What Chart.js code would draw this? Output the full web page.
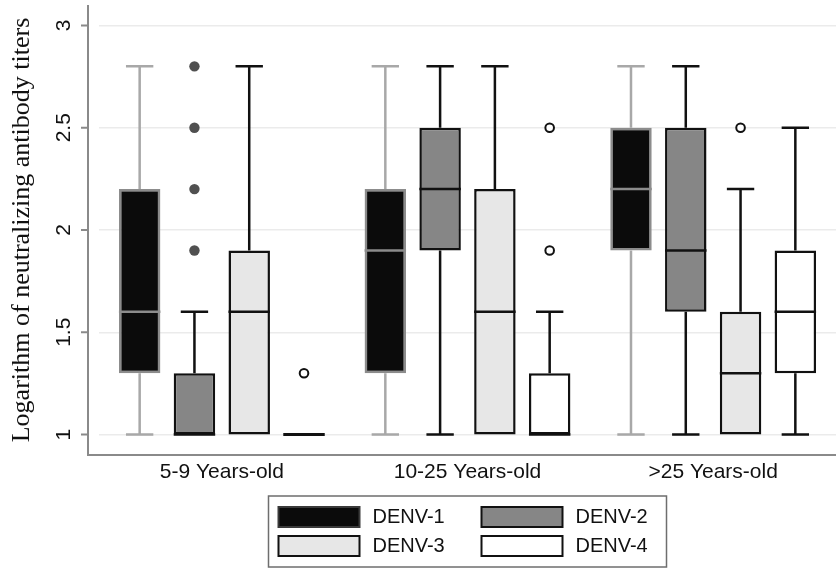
<!DOCTYPE html>
<html><head><meta charset="utf-8">
<script src="https://cdn.jsdelivr.net/npm/chart.js@4.4.1/dist/chart.umd.min.js"></script>
<style>html,body{margin:0;padding:0;background:#fff;}#wrap{width:836px;height:569px;position:relative;}</style>
</head><body><div id="wrap"><canvas id="c"></canvas></div>
<script>
// ---- data ----
const categories = ['5-9 Years-old', '10-25 Years-old', '>25 Years-old'];
const seriesNames = ['DENV-1', 'DENV-2', 'DENV-3', 'DENV-4'];
// per age group: [lower whisker, Q1, median, Q3, upper whisker]
const denv1Stats = [[1, 1.3, 1.6, 2.2, 2.8], [1, 1.3, 1.9, 2.2, 2.8], [1, 1.9, 2.2, 2.5, 2.8]];
const denv2Stats = [[1, 1, 1, 1.3, 1.6], [1, 1.9, 2.2, 2.5, 2.8], [1, 1.6, 1.9, 2.5, 2.8]];
const denv3Stats = [[1, 1, 1.6, 1.9, 2.8], [1, 1, 1.6, 2.2, 2.8], [1, 1, 1.3, 1.6, 2.2]];
const denv4Stats = [[1, 1, 1, 1, 1], [1, 1, 1, 1.3, 1.6], [1, 1.3, 1.6, 1.9, 2.5]];
const denv1Outliers = [[], [], []];
const denv2Outliers = [[1.9, 2.2, 2.5, 2.8], [], []];
const denv3Outliers = [[], [], [2.5]];
const denv4Outliers = [[1.3], [1.9, 2.5], []];
const yTicks = [1, 1.5, 2, 2.5, 3];
const yTickLabels = ['1', '1.5', '2', '2.5', '3'];
const yTitle = 'Logarithm of neutralizing antibody titers';

// ---- styles ----
const styles = [
  {fill: '#0b0b0b', edge: '#8c8c8c', whisker: '#a8a8a8', median: '#8c8c8c', outFill: '#0b0b0b', outEdge: '#8c8c8c', legEdge: '#3a3a3a'},
  {fill: '#868686', edge: '#111111', whisker: '#111111', median: '#111111', outFill: '#505050', outEdge: null, legEdge: '#111111'},
  {fill: '#e7e7e7', edge: '#111111', whisker: '#111111', median: '#111111', outFill: '#ffffff', outEdge: '#111111', legEdge: '#111111'},
  {fill: '#ffffff', edge: '#111111', whisker: '#111111', median: '#111111', outFill: '#ffffff', outEdge: '#111111', legEdge: '#111111'}
];
const allStats = [denv1Stats, denv2Stats, denv3Stats, denv4Stats];
const allOutliers = [denv1Outliers, denv2Outliers, denv3Outliers, denv4Outliers];
const SANS = "'Liberation Sans', Arial, sans-serif";
const SERIF = "'Liberation Serif', 'Times New Roman', serif";

const datasets = seriesNames.map((name, i) => ({
  label: name,
  data: allStats[i].map(s => [s[1], s[3]]),
  stats: allStats[i],
  outliers: allOutliers[i],
  backgroundColor: styles[i].fill,
  borderColor: styles[i].edge,
  borderWidth: 2.5,
  borderSkipped: false,
  categoryPercentage: 0.892,
  barPercentage: 0.757
}));

const boxExtras = {
  id: 'boxExtras',
  afterDatasetsDraw(chart) {
    const ctx = chart.ctx, y = chart.scales.y;
    const px = v => y.getPixelForValue(v);
    chart.data.datasets.forEach((ds, di) => {
      const st = styles[di];
      const meta = chart.getDatasetMeta(di);
      meta.data.forEach((bar, i) => {
        const s = ds.stats[i];
        const {x, width} = bar.getProps(['x', 'width'], true);
        const cap = width * 0.33;
        ctx.save();
        ctx.lineCap = 'butt';
        ctx.lineWidth = 2.5;
        ctx.strokeStyle = st.whisker;
        ctx.beginPath();
        if (s[4] > s[3]) {
          ctx.moveTo(x, px(s[3])); ctx.lineTo(x, px(s[4]));
          ctx.moveTo(x - cap, px(s[4])); ctx.lineTo(x + cap, px(s[4]));
        }
        if (s[0] < s[1]) {
          ctx.moveTo(x, px(s[1])); ctx.lineTo(x, px(s[0]));
          ctx.moveTo(x - cap, px(s[0])); ctx.lineTo(x + cap, px(s[0]));
        }
        ctx.stroke();
        ctx.strokeStyle = st.median;
        ctx.lineWidth = s[1] === s[3] ? 3 : 2.5;
        ctx.beginPath();
        ctx.moveTo(x - width / 2, px(s[2])); ctx.lineTo(x + width / 2, px(s[2]));
        ctx.stroke();
        ds.outliers[i].forEach(v => {
          ctx.beginPath();
          ctx.arc(x, px(v), st.outEdge ? 4.3 : 5.2, 0, Math.PI * 2);
          ctx.fillStyle = st.outFill; ctx.fill();
          if (st.outEdge) { ctx.lineWidth = 2; ctx.strokeStyle = st.outEdge; ctx.stroke(); }
        });
        ctx.restore();
      });
    });
  }
};

const axesAndLegend = {
  id: 'axesAndLegend',
  afterDraw(chart) {
    const ctx = chart.ctx, ca = chart.chartArea, y = chart.scales.y;
    const axX = ca.left - 11;
    ctx.save();
    // axis lines
    ctx.strokeStyle = '#8a8a8a';
    ctx.lineWidth = 2;
    ctx.beginPath();
    ctx.moveTo(axX, ca.top); ctx.lineTo(axX, ca.bottom);
    ctx.lineTo(ca.right, ca.bottom);
    yTicks.forEach(v => { const p = y.getPixelForValue(v); ctx.moveTo(axX - 7, p); ctx.lineTo(axX, p); });
    ctx.stroke();
    // y tick labels (rotated)
    ctx.fillStyle = '#111';
    ctx.font = '21px ' + SANS;
    ctx.textAlign = 'center';
    ctx.textBaseline = 'middle';
    yTicks.forEach((v, i) => {
      const p = y.getPixelForValue(v);
      ctx.save();
      ctx.translate(ca.left - 35, p);
      ctx.rotate(-Math.PI / 2);
      ctx.fillText(yTickLabels[i], 0, 0);
      ctx.restore();
    });
    // legend
    const cx = (ca.left + ca.right) / 2;
    const W = 398, H = 71;
    const L = cx - W / 2, T = ca.bottom + 41;
    ctx.strokeStyle = '#6e6e6e';
    ctx.lineWidth = 1.5;
    ctx.strokeRect(L, T, W, H);
    ctx.font = '20px ' + SANS;
    ctx.textAlign = 'left';
    seriesNames.forEach((name, i) => {
      const col = i % 2, row = Math.floor(i / 2);
      const sx = L + 10 + col * 203, sy = T + 11 + row * 29;
      ctx.fillStyle = styles[i].fill;
      ctx.fillRect(sx, sy, 81, 20);
      ctx.strokeStyle = styles[i].legEdge;
      ctx.lineWidth = 2;
      ctx.strokeRect(sx, sy, 81, 20);
      ctx.fillStyle = '#111';
      ctx.fillText(name, sx + 94, sy + 10.5);
    });
    ctx.restore();
  }
};

new Chart(document.getElementById('c'), {
  type: 'bar',
  data: {labels: categories, datasets},
  options: {
    responsive: true,
    maintainAspectRatio: false,
    animation: false,
    layout: {padding: {top: 5, right: 0, bottom: 79, left: 0}},
    plugins: {legend: {display: false}, tooltip: {enabled: false}},
    scales: {
      x: {
        grid: {display: false, drawTicks: false},
        border: {display: false},
        ticks: {color: '#111', font: {family: SANS, size: 21}, padding: 5, maxRotation: 0},
        afterFit(scale) { scale.height = 35; }
      },
      y: {
        min: 0.9,
        max: 3.1,
        afterBuildTicks(scale) { scale.ticks = yTicks.map(v => ({value: v})); },
        ticks: {display: false},
        grid: {color: '#ebebeb', lineWidth: 1.5, drawTicks: false},
        border: {display: false},
        title: {display: true, text: yTitle, color: '#111', font: {family: SERIF, size: 26}, padding: {top: 7, bottom: 0}},
        afterFit(scale) { scale.width = 99; }
      }
    }
  },
  plugins: [boxExtras, axesAndLegend]
});
</script>
</body></html>
